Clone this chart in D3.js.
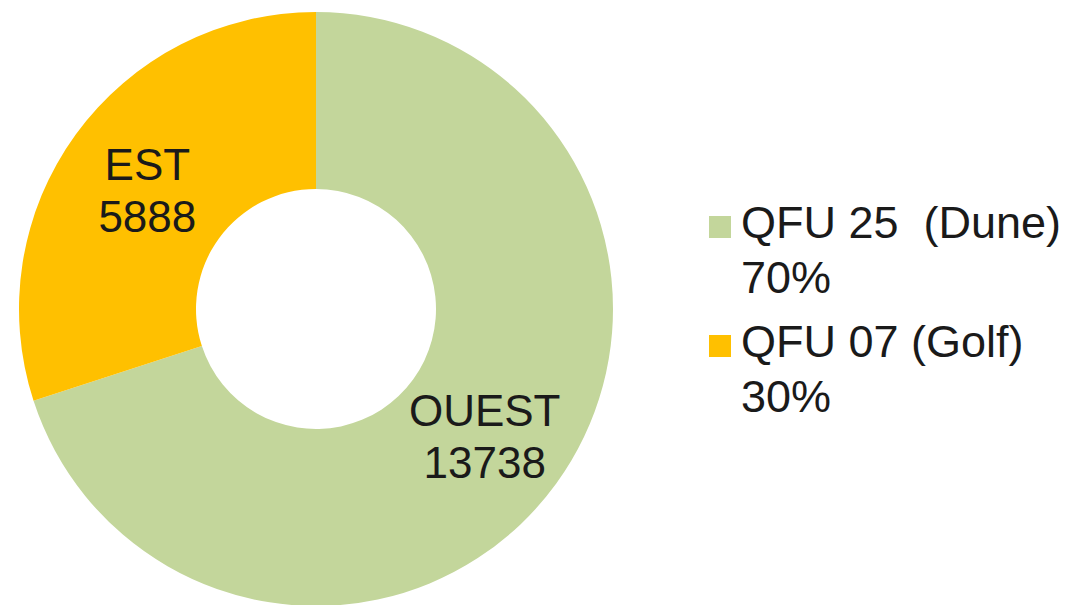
<!DOCTYPE html>
<html>
<head>
<meta charset="utf-8">
<script src="https://cdn.jsdelivr.net/npm/d3@7"></script>
<style>
  html, body { margin: 0; padding: 0; background: #ffffff; }
  svg { display: block; }
  text { font-family: "Liberation Sans", Arial, sans-serif; fill: #1a1a1a; }
</style>
</head>
<body>
<svg id="chart" width="1080" height="605"></svg>
<script>
// ---- data ----
const categories = ["OUEST", "EST"];
const values = [13738, 5888];
const legendNames = ["QFU 25  (Dune)", "QFU 07 (Golf)"];
const legendPercents = ["70%", "30%"];
const colors = ["#c3d69b", "#ffc000"];

// ---- layout ----
const W = 1080, H = 605;
const cx = 316, cy = 309;
const outerR = 297, innerR = 120;
const fontSize = 44;
const legendFontSize = 45;

const svg = d3.select("#chart");
const color = d3.scaleOrdinal().domain(categories).range(colors);

const pie = d3.pie().sort(null).value(d => d.value);
const arcs = pie(categories.map((c, i) => ({ name: c, value: values[i] })));
const arc = d3.arc().innerRadius(innerR).outerRadius(outerR);

const g = svg.append("g").attr("transform", `translate(${cx},${cy})`);

g.selectAll("path.slice")
  .data(arcs)
  .join("path")
  .attr("class", "slice")
  .attr("d", arc)
  .attr("fill", d => color(d.data.name));

// labels at centroid
const labels = g.selectAll("g.lbl")
  .data(arcs)
  .join("g")
  .attr("class", "lbl")
  .attr("transform", d => { const c = arc.centroid(d); return `translate(${c[0]},${c[1]})`; });

labels.append("text")
  .attr("text-anchor", "middle")
  .attr("y", -6)
  .style("font-size", fontSize + "px")
  .text(d => d.data.name);

labels.append("text")
  .attr("text-anchor", "middle")
  .attr("y", 46)
  .style("font-size", fontSize + "px")
  .text(d => d.data.value);

// ---- legend ----
const legendX = 709, textX = 741;
const legendBaselines = [238, 357];
const lineGap = 55;

const leg = svg.selectAll("g.legend")
  .data(categories)
  .join("g")
  .attr("class", "legend")
  .attr("transform", (d, i) => `translate(0,${legendBaselines[i]})`);

leg.append("rect")
  .attr("x", legendX)
  .attr("y", -22)
  .attr("width", 22)
  .attr("height", 22)
  .attr("fill", d => color(d));

leg.append("text")
  .attr("x", textX)
  .attr("y", 0)
  .style("font-size", legendFontSize + "px")
  .attr("xml:space", "preserve")
  .style("white-space", "pre")
  .text((d, i) => legendNames[i]);

leg.append("text")
  .attr("x", textX)
  .attr("y", lineGap)
  .style("font-size", legendFontSize + "px")
  .text((d, i) => legendPercents[i]);
</script>
</body>
</html>
